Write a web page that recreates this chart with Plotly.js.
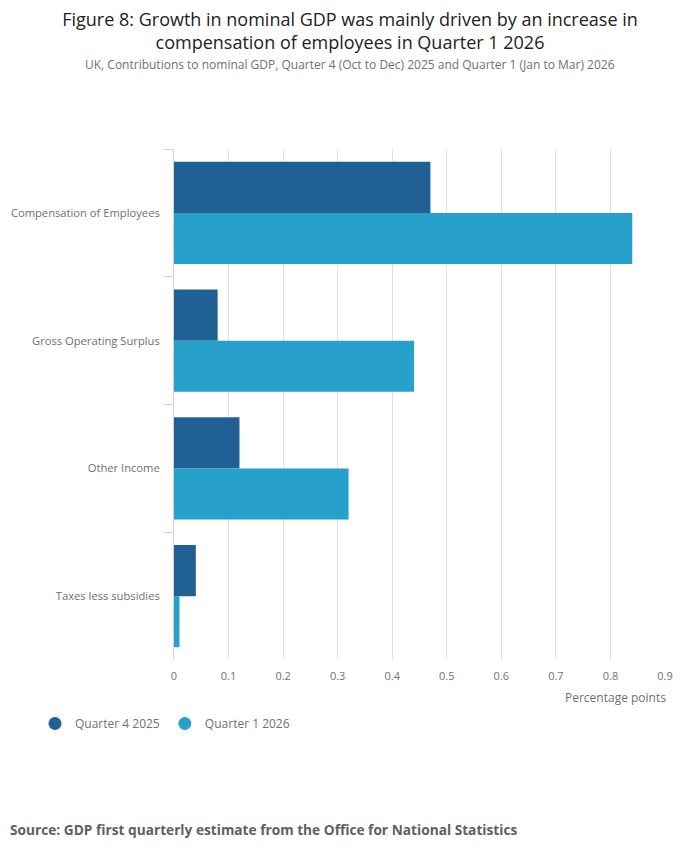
<!DOCTYPE html>
<html>
<head>
<meta charset="utf-8">
<script src="https://cdn.plot.ly/plotly-3.0.1.min.js"></script>
<style>
  html, body { margin: 0; padding: 0; background: #fff; }
  #plot { width: 700px; height: 857px; }
</style>
</head>
<body>
<div id="plot"></div>
<script>
const categories = ['Compensation of Employees', 'Gross Operating Surplus', 'Other Income', 'Taxes less subsidies'];
const q4_2025 = [0.47, 0.08, 0.12, 0.04];
const q1_2026 = [0.84, 0.44, 0.32, 0.01];
const xTicks = [0, 0.1, 0.2, 0.3, 0.4, 0.5, 0.6, 0.7, 0.8, 0.9];

const darkBlue = '#206095';
const lightBlue = '#27a0cc';
const font = 'Open Sans, sans-serif';

// plot area in pixels, used to place the free texts
const M = { l: 174, r: 35, t: 149, b: 197 };
const plotW = 700 - M.l - M.r;
const plotH = 857 - M.t - M.b;
const px = (x) => (x - M.l) / plotW;
const py = (y) => (857 - M.b - y) / plotH;

const traces = [
  {
    type: 'bar',
    orientation: 'h',
    name: 'Quarter 4 2025',
    y: categories,
    x: q4_2025,
    marker: { color: darkBlue },
    showlegend: false,
    hoverinfo: 'x',
  },
  {
    type: 'bar',
    orientation: 'h',
    name: 'Quarter 1 2026',
    y: categories,
    x: q1_2026,
    marker: { color: lightBlue },
    showlegend: false,
    hoverinfo: 'x',
  },
  // legend-only entries so the keys are drawn as dots
  {
    type: 'scatter',
    mode: 'markers',
    name: 'Quarter 4 2025',
    x: [null],
    y: [null],
    marker: { color: darkBlue, size: 13, symbol: 'circle' },
  },
  {
    type: 'scatter',
    mode: 'markers',
    name: 'Quarter 1 2026',
    x: [null],
    y: [null],
    marker: { color: lightBlue, size: 13, symbol: 'circle' },
  },
];

const layout = {
  width: 700,
  height: 857,
  paper_bgcolor: '#fff',
  plot_bgcolor: '#fff',
  font: { family: font, color: '#707070', size: 11 },
  margin: M,
  barmode: 'group',
  bargap: 0.2,
  bargroupgap: 0,
  title: {
    text: 'Figure 8: Growth in nominal GDP was mainly driven by an increase in<br>compensation of employees in Quarter 1 2026',
    font: { family: font, size: 18, color: '#222222' },
    x: 0.5,
    xanchor: 'center',
    y: 1 - 26 / 857,
    yanchor: 'top',
  },
  xaxis: {
    range: [0, 0.9],
    tickvals: xTicks,
    ticktext: xTicks.map(String),
    showgrid: true,
    gridcolor: '#e2e2e2',
    gridwidth: 1,
    zeroline: false,
    showline: false,
    ticks: '',
    ticklabelstandoff: 8,
    tickfont: { size: 11, color: '#707070' },
    fixedrange: true,
  },
  yaxis: {
    type: 'category',
    autorange: 'reversed',
    showgrid: false,
    zeroline: false,
    showline: true,
    linecolor: '#c9d2de',
    linewidth: 1,
    ticks: 'outside',
    tickson: 'boundaries',
    ticklen: 9,
    tickcolor: '#c9d2de',
    ticklabelstandoff: 11,
    tickfont: { size: 11.2, color: '#707070' },
    fixedrange: true,
  },
  showlegend: true,
  legend: {
    orientation: 'h',
    xref: 'container',
    yref: 'container',
    x: 0.05,
    xanchor: 'left',
    y: 1 - 709 / 857,
    yanchor: 'top',
    itemwidth: 30,
    font: { size: 12, color: '#707070' },
    itemclick: false,
    itemdoubleclick: false,
    tracegroupgap: 0,
  },
  annotations: [
    {
      text: 'UK, Contributions to nominal GDP, Quarter 4 (Oct to Dec) 2025 and Quarter 1 (Jan to Mar) 2026',
      xref: 'paper', yref: 'paper',
      x: px(350), xanchor: 'center',
      y: py(64), yanchor: 'middle',
      showarrow: false,
      font: { size: 12, color: '#707070' },
    },
    {
      text: 'Percentage points',
      xref: 'paper', yref: 'paper',
      x: 1, xanchor: 'right', xshift: 3,
      y: py(697), yanchor: 'middle',
      showarrow: false,
      font: { size: 12, color: '#707070' },
    },
    {
      text: '<b>Source: GDP first quarterly estimate from the Office for National Statistics</b>',
      xref: 'paper', yref: 'paper',
      x: px(8), xanchor: 'left',
      y: py(829), yanchor: 'middle',
      showarrow: false,
      font: { size: 13.7, color: '#5f5f5f' },
    },
  ],
};

const config = {
  displayModeBar: false,
  doubleClick: false,
  scrollZoom: false,
};

Plotly.newPlot('plot', traces, layout, config);
</script>
</body>
</html>
